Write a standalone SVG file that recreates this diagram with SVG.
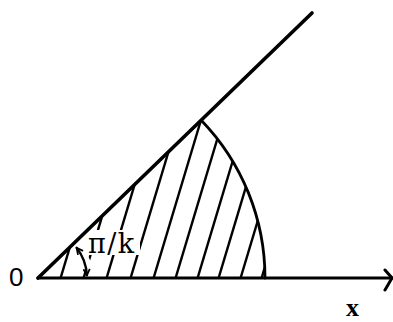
<svg xmlns="http://www.w3.org/2000/svg" width="393" height="322" viewBox="0 0 393 322">
<style>
.ink{stroke:#000;fill:none;stroke-linecap:round;stroke-linejoin:round}
.hatch{stroke:#000;stroke-width:2.4;fill:none}
</style>
<defs>
<clipPath id="sector">
<path d="M38,278 L201.2,120.2 A227,227 0 0 1 265,278 Z"/>
</clipPath>
<marker id="chev" viewBox="0 0 10 10" refX="9" refY="5" markerWidth="8" markerHeight="8" markerUnits="userSpaceOnUse" orient="auto-start-reverse">
<path d="M1,1 L9,5 L1,9" stroke="#000" stroke-width="2.2" fill="none"/>
</marker>
</defs>
<rect width="393" height="322" fill="#fff"/>
<g id="hatching" clip-path="url(#sector)">
<line class="hatch" x1="60" y1="280" x2="150" y2="-20"/>
<line class="hatch" x1="83" y1="280" x2="173" y2="-20"/>
<line class="hatch" x1="106" y1="280" x2="196" y2="-20"/>
<line class="hatch" x1="130" y1="280" x2="220" y2="-20"/>
<line class="hatch" x1="153" y1="280" x2="243" y2="-20"/>
<line class="hatch" x1="175" y1="280" x2="265" y2="-20"/>
<line class="hatch" x1="197" y1="280" x2="287" y2="-20"/>
<line class="hatch" x1="218" y1="280" x2="308" y2="-20"/>
<line class="hatch" x1="240" y1="280" x2="330" y2="-20"/>
<line class="hatch" x1="261" y1="280" x2="351" y2="-20"/>
</g>
<rect x="88" y="230" width="52" height="25" fill="#fff"/>
<path d="M74,244 A51,51 0 0 1 89,270" stroke="#fff" stroke-width="8" fill="none"/>
<g id="connectors">
<line class="ink" x1="38" y1="278" x2="312" y2="13" stroke-width="3.6"/>
<line class="ink" x1="38" y1="278" x2="392" y2="278" stroke-width="3.2"/>
<path class="ink" d="M385,270 L392,278 L385,290" stroke-width="3"/>
<path class="ink" d="M201.2,120.2 A227,227 0 0 1 265,278" stroke-width="2.8"/>
<path class="ink" d="M76.6,247.8 A49,49 0 0 1 86.9,275.4" stroke-width="2.4" marker-start="url(#chev)" marker-end="url(#chev)"/>
</g>
<g id="labels">
<text x="9" y="286" style="font-family:'Liberation Sans',sans-serif" font-size="26" fill="#000">0</text>
<text x="88" y="253" style="font-family:'DejaVu Serif',serif" font-size="27" letter-spacing="1.5" fill="#000">π/k</text>
<text x="346" y="316" style="font-family:'Liberation Serif',serif;font-weight:bold" font-size="26" fill="#000">x</text>
</g>
</svg>
